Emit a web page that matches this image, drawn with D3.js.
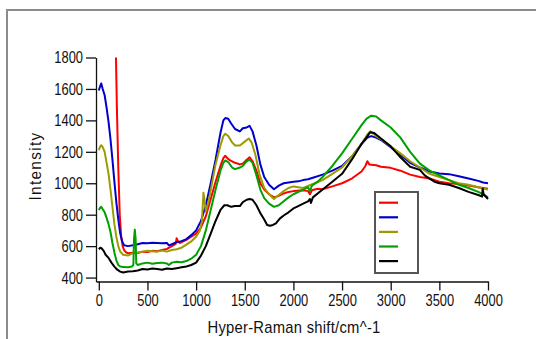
<!DOCTYPE html>
<html>
<head>
<meta charset="utf-8">
<script src="https://cdn.jsdelivr.net/npm/d3@7"></script>
<style>
  body { margin: 0; background: #fff; }
  svg text { font-family: 'Liberation Sans Narrow', 'Arial Narrow', 'Liberation Sans', sans-serif; fill: #111; }
</style>
</head>
<body>
<svg id="chart" width="536" height="339"></svg>
<script>
// spectra: [shift cm^-1, intensity]
const red = [[175,1850],[185,1500],[200,1100],[215,800],[230,660],[245,600],[260,575],[280,560],[300,555],[350,558],[400,556],[450,565],[500,562],[550,570],[600,568],[650,575],[700,582],[750,600],[790,615],[800,650],[810,635],[830,620],[850,625],[900,640],[950,660],[1000,680],[1050,720],[1100,790],[1150,900],[1200,1010],[1250,1110],[1280,1160],[1300,1175],[1320,1160],[1350,1145],[1400,1130],[1450,1120],[1480,1125],[1520,1150],[1550,1165],[1580,1140],[1620,1080],[1660,1000],[1700,960],[1750,930],[1800,910],[1850,920],[1900,935],[1950,945],[2000,950],[2100,955],[2150,950],[2170,930],[2190,955],[2250,965],[2300,962],[2400,980],[2500,1000],[2600,1030],[2700,1075],[2740,1110],[2760,1140],[2780,1120],[2850,1115],[2900,1105],[3000,1098],[3100,1080],[3200,1055],[3300,1040],[3400,1030],[3500,1010],[3600,1000],[3700,995],[3800,985],[3900,975],[3950,970],[4000,965]];
const blue = [[0,1590],[15,1620],[25,1635],[40,1600],[60,1560],[80,1480],[100,1390],[120,1280],[140,1150],[160,1010],[180,880],[200,770],[220,680],[240,630],[260,605],[300,600],[350,605],[400,612],[450,620],[500,618],[550,622],[600,620],[650,618],[700,620],[720,605],[750,612],[800,625],[850,632],[900,645],[950,670],[1000,700],[1050,760],[1100,860],[1150,1000],[1200,1150],[1250,1320],[1280,1400],[1300,1415],[1330,1410],[1360,1380],[1400,1345],[1450,1330],[1480,1350],[1520,1355],[1550,1365],[1580,1330],[1620,1240],[1660,1120],[1700,1040],[1750,990],[1800,962],[1850,985],[1900,1000],[1950,1005],[2000,1010],[2050,1012],[2100,1020],[2150,1025],[2200,1035],[2300,1055],[2400,1080],[2500,1110],[2600,1170],[2700,1250],[2760,1290],[2800,1300],[2850,1290],[2900,1275],[3000,1230],[3100,1180],[3200,1130],[3300,1100],[3400,1075],[3500,1062],[3600,1058],[3700,1045],[3800,1030],[3900,1015],[3950,1005],[4000,1000]];
const olive = [[0,1210],[15,1235],[25,1242],[40,1230],[60,1200],[80,1130],[100,1060],[120,960],[140,850],[160,740],[180,660],[200,600],[220,565],[250,545],[300,540],[350,555],[400,560],[450,565],[500,570],[550,568],[600,565],[650,572],[700,565],[750,575],[800,580],[850,590],[900,610],[950,630],[1000,660],[1040,700],[1060,760],[1075,940],[1085,900],[1100,820],[1130,890],[1160,990],[1200,1120],[1250,1240],[1280,1300],[1300,1315],[1330,1300],[1370,1260],[1400,1240],[1450,1240],[1500,1265],[1540,1285],[1570,1260],[1610,1180],[1650,1060],[1700,970],[1750,930],[1800,900],[1850,925],[1900,950],[1950,970],[2000,980],[2050,975],[2100,970],[2200,995],[2300,1020],[2400,1060],[2500,1100],[2600,1170],[2700,1250],[2760,1310],[2790,1330],[2850,1300],[2900,1280],[3000,1235],[3100,1190],[3200,1140],[3300,1100],[3400,1060],[3500,1040],[3600,1020],[3700,1000],[3800,990],[3900,975],[3950,965],[4000,960]];
const green = [[0,830],[15,845],[25,850],[40,835],[60,815],[80,780],[100,740],[120,690],[140,620],[160,560],[180,510],[200,480],[220,470],[250,468],[300,465],[340,470],[355,480],[362,650],[370,705],[378,650],[385,490],[400,480],[450,490],[500,495],[550,488],[600,492],[650,495],[700,490],[720,480],[750,495],[800,500],[850,498],[900,505],[950,520],[1000,545],[1050,600],[1100,700],[1150,830],[1200,960],[1250,1080],[1280,1130],[1300,1145],[1330,1135],[1370,1100],[1400,1090],[1450,1100],[1480,1110],[1520,1140],[1550,1150],[1580,1130],[1620,1050],[1660,960],[1700,905],[1750,870],[1800,850],[1850,860],[1900,885],[1950,910],[2000,930],[2100,960],[2150,975],[2170,950],[2190,985],[2250,1010],[2300,1040],[2400,1110],[2500,1190],[2600,1280],[2700,1370],[2750,1410],[2800,1430],[2850,1425],[2900,1400],[3000,1355],[3100,1290],[3200,1200],[3300,1125],[3400,1080],[3500,1050],[3600,1020],[3700,990],[3800,970],[3900,945],[3950,930],[4000,910]];
const black = [[0,580],[15,590],[30,585],[50,570],[70,545],[100,525],[130,495],[160,470],[190,450],[220,438],[250,432],[300,438],[350,440],[400,445],[450,455],[500,452],[550,458],[600,455],[650,450],[700,458],[750,455],[800,460],[850,465],[900,470],[950,480],[1000,495],[1050,540],[1100,600],[1150,680],[1200,760],[1250,830],[1290,860],[1320,860],[1360,850],[1400,855],[1450,855],[1480,880],[1520,895],[1550,900],[1580,895],[1620,860],[1660,810],[1700,770],[1730,735],[1760,730],[1790,735],[1820,745],[1860,775],[1900,795],[1950,815],[2000,840],[2050,855],[2100,870],[2150,885],[2170,900],[2180,875],[2200,910],[2300,960],[2400,1010],[2500,1060],[2600,1150],[2700,1250],[2750,1290],[2790,1325],[2830,1320],[2900,1285],[3000,1235],[3100,1165],[3200,1105],[3300,1085],[3350,1050],[3400,1030],[3450,1010],[3500,1000],[3600,990],[3700,970],[3800,945],[3900,925],[3940,915],[3945,965],[3955,930],[4000,900]];

const series = [red, blue, olive, green, black];
const colors = ['#ff0000', '#0000cc', '#9c9c00', '#00a000', '#000000'];
const xTicks = [0, 500, 1000, 1500, 2000, 2500, 3000, 3500, 4000];
const yTicks = [400, 600, 800, 1000, 1200, 1400, 1600, 1800];

const svg = d3.select('#chart');
const squeeze = 0.76; // the original uses a narrow face, not installed here

// outer frame (top + left edge only visible)
svg.append('path').attr('d', 'M7,339V10H536').attr('fill', 'none').attr('stroke', '#8c8c8c').attr('stroke-width', 2);

const x = d3.scaleLinear().domain([-29, 4000]).range([96, 488]);
const y = d3.scaleLinear().domain([375, 1800]).range([281.5, 57.5]);

svg.append('defs').append('clipPath').attr('id', 'plot')
  .append('rect').attr('x', 96).attr('y', 57.5).attr('width', 400).attr('height', 224);

const xAxis = svg.append('g').attr('transform', 'translate(0,281.5)')
  .call(d3.axisBottom(x).tickValues(xTicks).tickSize(9).tickSizeOuter(0).tickPadding(3).tickFormat(d3.format('d')));
const yAxis = svg.append('g').attr('transform', 'translate(96,0)')
  .call(d3.axisLeft(y).tickValues(yTicks).tickSize(10).tickSizeOuter(0).tickPadding(3).tickFormat(d3.format('d')));
[xAxis, yAxis].forEach(a => {
  a.selectAll('path, line').attr('stroke', '#111').attr('stroke-width', 1.3);
  a.selectAll('text').style('font-size', '17px').attr('fill', '#111');
});
xAxis.selectAll('text').attr('transform', `scale(${squeeze},1)`);
yAxis.selectAll('text').attr('x', -13 / squeeze).attr('transform', `scale(${squeeze},1)`);

const line = d3.line().x(d => x(d[0])).y(d => y(d[1]));
svg.append('g').attr('clip-path', 'url(#plot)')
  .selectAll('path').data(series).enter().append('path')
  .attr('d', line)
  .attr('fill', 'none')
  .attr('stroke', (d, i) => colors[i])
  .attr('stroke-width', 2)
  .attr('stroke-linejoin', 'round');

// axis titles
svg.append('text').attr('transform', 'translate(41,166) rotate(-90) scale(0.9,1)')
  .attr('text-anchor', 'middle').style('font-size', '17px').style('letter-spacing', '1.5px').text('Intensity');
svg.append('text').attr('transform', 'translate(294,333) scale(0.87,1)')
  .attr('text-anchor', 'middle').style('font-size', '17px').style('letter-spacing', '0.3px').text('Hyper-Raman shift/cm^-1');

// legend box with samples only
const lg = svg.append('g');
lg.append('rect').attr('x', 375).attr('y', 192).attr('width', 43).attr('height', 81)
  .attr('fill', '#fff').attr('stroke', '#555').attr('stroke-width', 2);
lg.selectAll('line').data(colors).enter().append('line')
  .attr('x1', 379).attr('x2', 398)
  .attr('y1', (d, i) => 202.7 + i * 14.6).attr('y2', (d, i) => 202.7 + i * 14.6)
  .attr('stroke', d => d).attr('stroke-width', 2.2);
</script>
</body>
</html>
